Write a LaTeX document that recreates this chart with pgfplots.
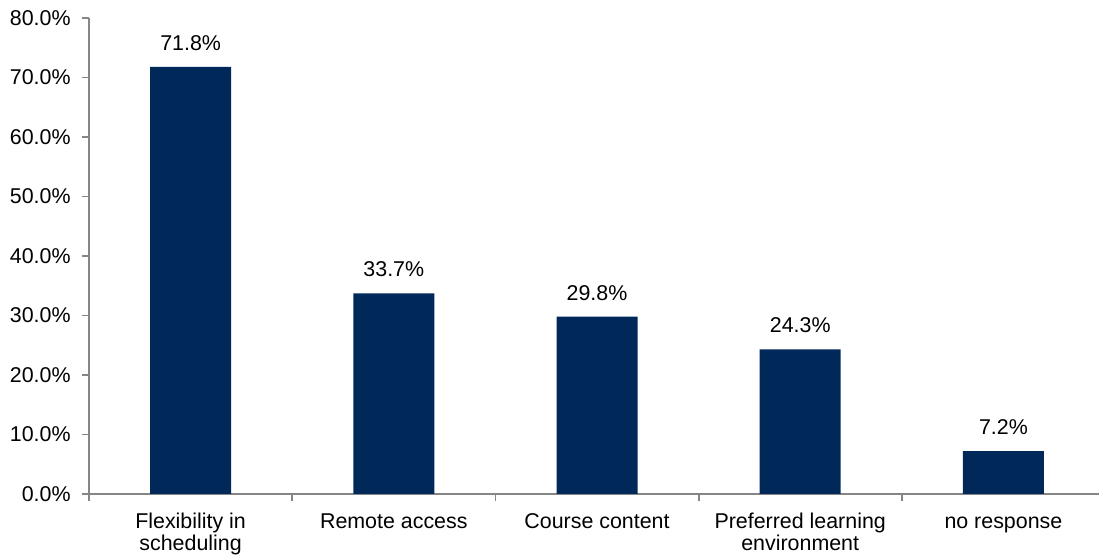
\documentclass[border=0pt]{standalone}
\usepackage{pgfplots}
\pgfplotsset{compat=1.18}
\usepackage{fontspec}
\setmainfont{Liberation Sans}
\definecolor{barblue}{RGB}{0,41,90}
\definecolor{axisgray}{RGB}{134,134,134}

\begin{document}
\begin{tikzpicture}
\begin{axis}[
    scale only axis,
    width=508pt, height=238pt,
    xmin=-0.5, xmax=4.5,
    ymin=0, ymax=80,
    axis lines*=left,
    axis line style={axisgray, line width=0.9pt},
    tick style={axisgray, line width=0.9pt},
    tick align=outside,
    major tick length=3.5pt,
    minor tick length=3.5pt,
    ytick={0,10,...,80},
    yticklabel={\pgfmathprintnumber[fixed,fixed zerofill,precision=1]{\tick}\%},
    /pgf/number format/assume math mode=true,
    xtick={0,...,4},
    xticklabels={{\rule{0pt}{8pt}Flexibility in\\scheduling},{\rule{0pt}{8pt}Remote access},{\rule{0pt}{8pt}Course content},{\rule{0pt}{8pt}Preferred learning\\environment},{\rule{0pt}{8pt}no response}},
    minor xtick={-0.5,0.5,...,4.5},
    major x tick style={draw=none},
    xticklabel style={align=center, anchor=north, inner sep=0pt, yshift=-5.5pt,
        font={\fontsize{10.7}{11.1}\selectfont}},
    yticklabel style={anchor=east, inner sep=0pt, xshift=-5.5pt},
    every tick label/.append style={font=\fontsize{10.7}{12}\selectfont},
]
\addplot[ybar, bar width=40.5pt, fill=barblue, draw=none,
    nodes near coords={\pgfmathprintnumber[fixed,fixed zerofill,precision=1]{\pgfplotspointmeta}\%},
    nodes near coords style={anchor=south, inner sep=0pt, yshift=8pt, black, font=\fontsize{10.7}{12}\selectfont}]
    coordinates {(0,71.8) (1,33.7) (2,29.8) (3,24.3) (4,7.2)};
\end{axis}
\path (current axis.south west) ++(-44.5pt,-32pt) coordinate (bbA);
\path (current axis.north east) ++(-3pt,9pt) coordinate (bbB);
\pgfresetboundingbox
\path (bbA) rectangle (bbB);
\end{tikzpicture}
\end{document}
